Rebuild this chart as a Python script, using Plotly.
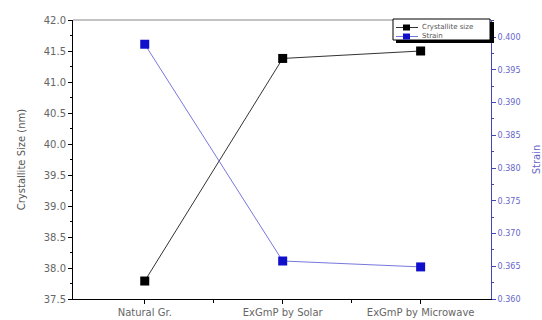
import plotly.graph_objects as go

categories = ["Natural Gr.", "ExGmP by Solar", "ExGmP by Microwave"]
crystallite_size = [37.79, 41.38, 41.50]
strain = [0.3989, 0.3658, 0.3649]
x_idx = [0, 1, 2]
legend_labels = ["Crystallite size", "Strain"]

BLACK = "black"
BLUE = "#1010cc"

fig = go.Figure()
fig.add_trace(go.Scatter(
    x=x_idx, y=crystallite_size, name=legend_labels[0], mode="lines+markers",
    line=dict(color="#333333", width=1),
    marker=dict(symbol="square", size=9, color=BLACK),
))
fig.add_trace(go.Scatter(
    x=x_idx, y=strain, name=legend_labels[1], mode="lines+markers", yaxis="y2",
    line=dict(color="#7777dd", width=1),
    marker=dict(symbol="square", size=9, color=BLUE),
))

FONT = "DejaVu Sans, Verdana, Arial"
tickfont = dict(family=FONT, size=10, color="#666666")

# manual legend (paper coords; plot area 418x279 px)
W, H = 418.0, 279.0
def px(x):
    return (x - 73) / W
def py(y):
    return (299 - y) / H

shapes = [
    dict(type="line", xref="paper", yref="paper", x0=0, x1=1, y0=1, y1=1,
         line=dict(color="#888888", width=1)),
    # shadow
    dict(type="rect", xref="paper", yref="paper", x0=px(396), x1=px(494), y0=py(43), y1=py(22),
         fillcolor="black", line=dict(width=0)),
    dict(type="rect", xref="paper", yref="paper", x0=px(393), x1=px(490), y0=py(40), y1=py(19),
         fillcolor="white", line=dict(color="black", width=1)),
]
annotations = []
rows = [(27.5, BLACK, "#333333"), (36.5, BLUE, "#7777dd")]
for (yy, mc, lc), lab in zip(rows, legend_labels):
    shapes.append(dict(type="line", xref="paper", yref="paper", x0=px(396), x1=px(418),
                       y0=py(yy), y1=py(yy), line=dict(color=lc, width=1)))
    shapes.append(dict(type="rect", xref="paper", yref="paper", x0=px(403), x1=px(410),
                       y0=py(yy + 3), y1=py(yy - 3), fillcolor=mc, line=dict(width=0)))
    annotations.append(dict(xref="paper", yref="paper", x=px(420), y=py(yy), text=lab,
                            showarrow=False, xanchor="left", yanchor="middle",
                            font=dict(family=FONT, size=7, color="#555555")))

fig.update_layout(
    width=542, height=320,
    margin=dict(l=73, r=51, t=20, b=21, autoexpand=False),
    paper_bgcolor="white", plot_bgcolor="white",
    showlegend=False,
    xaxis=dict(
        automargin=False,
        range=[-0.52, 2.51], tickvals=x_idx, ticktext=categories,
        showgrid=False, zeroline=False, showline=True, linecolor="black",
        linewidth=1, ticks="outside", ticklen=4, tickcolor="black",
        tickfont=tickfont,
        minor=dict(tickvals=[0.5, 1.5], ticks="outside", ticklen=3, tickcolor="black"),
    ),
    yaxis=dict(
        automargin=False,
        range=[37.5, 42.0], dtick=0.5, tickformat=".1f",
        showgrid=False, zeroline=False, showline=True, linecolor="black",
        linewidth=1, ticks="outside", ticklen=4, tickcolor="black", tickfont=tickfont,
        minor=dict(dtick=0.25, ticks="outside", ticklen=2, tickcolor="black"),
        title=dict(text="Crystallite Size (nm)",
                   font=dict(family=FONT, size=10, color="#555555"),
                   standoff=16),
    ),
    yaxis2=dict(
        automargin=False,
        overlaying="y", side="right",
        range=[0.360, 0.4026],
        tickvals=[0.360, 0.365, 0.370, 0.375, 0.380, 0.385, 0.390, 0.395, 0.400],
        tickformat=".3f",
        showgrid=False, zeroline=False, showline=True, linecolor="#4444bb",
        linewidth=1, ticks="outside", ticklen=4, tickcolor="#4444bb",
        tickfont=dict(family=FONT, size=8, color="#6666cc"),
        minor=dict(tickvals=[0.3625, 0.3675, 0.3725, 0.3775, 0.3825, 0.3875, 0.3925, 0.3975, 0.4025],
                   ticks="outside", ticklen=2, tickcolor="#4444bb"),
        title=dict(text="Strain",
                   font=dict(family=FONT, size=10, color="#6666cc"),
                   standoff=14),
    ),
    shapes=shapes,
    annotations=annotations,
)

fig.write_html("out.html",
               config={"displayModeBar": False},
               post_script="document.body.style.margin='0';document.body.style.overflow='hidden';")
